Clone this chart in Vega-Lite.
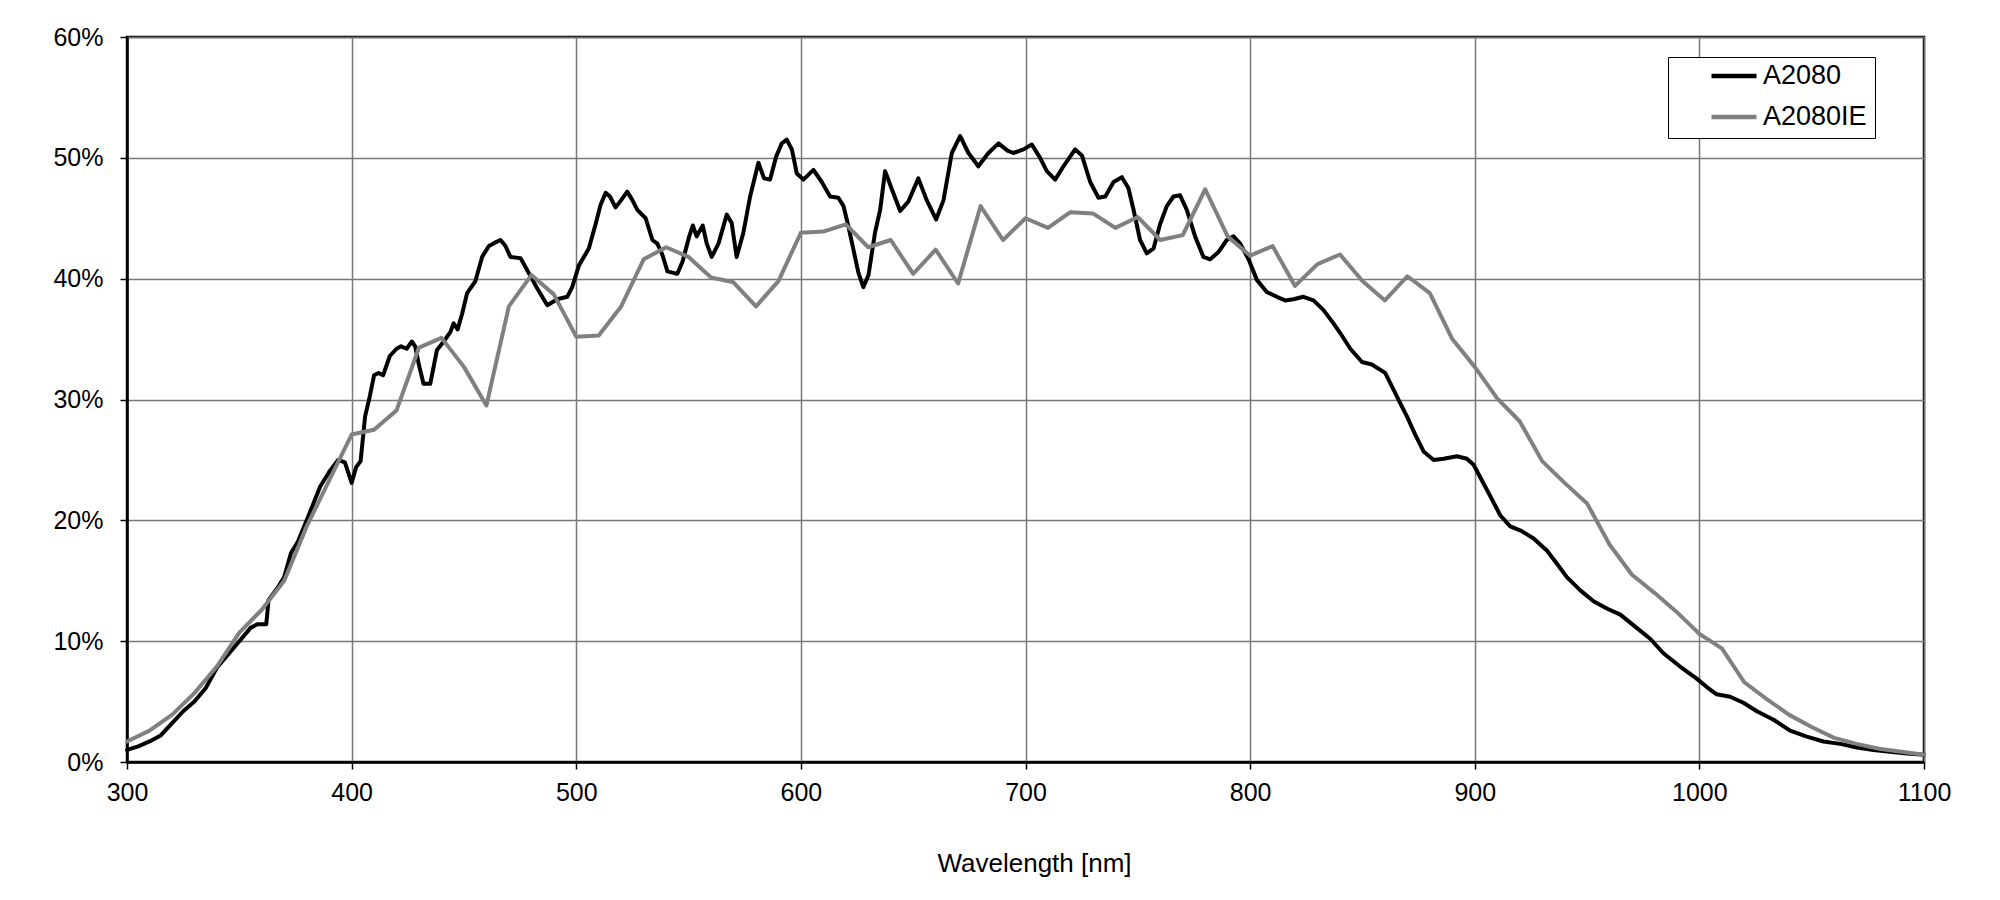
{
  "$schema": "https://vega.github.io/schema/vega-lite/v6.json",
  "width": 1797,
  "height": 725,
  "autosize": {"type": "none"},
  "padding": {"left": 127, "top": 37, "right": 76, "bottom": 138},
  "background": "white",
  "config": {
    "font": "Liberation Sans",
    "view": {"stroke": "#000000", "strokeWidth": 2.5},
    "axis": {
      "grid": true,
      "gridColor": "#777777",
      "gridWidth": 1.5,
      "domainColor": "#000000",
      "domainWidth": 2.5,
      "tickColor": "#000000",
      "tickSize": 7,
      "tickWidth": 1.5,
      "labelColor": "#000000",
      "labelFontSize": 25,
      "labelFont": "Liberation Sans",
      "titleFont": "Liberation Sans",
      "titleColor": "#000000",
      "titleFontSize": 26,
      "titleFontWeight": "normal",
      "labelFlush": false,
      "labelOverlap": false
    }
  },
  "data": {
    "values": [
      {"series": "A2080", "wl": 300, "qe": 1.0},
      {"series": "A2080", "wl": 305, "qe": 1.3},
      {"series": "A2080", "wl": 310, "qe": 1.7},
      {"series": "A2080", "wl": 315, "qe": 2.2},
      {"series": "A2080", "wl": 320, "qe": 3.2},
      {"series": "A2080", "wl": 325, "qe": 4.2},
      {"series": "A2080", "wl": 330, "qe": 5.0},
      {"series": "A2080", "wl": 335, "qe": 6.1},
      {"series": "A2080", "wl": 340, "qe": 7.8},
      {"series": "A2080", "wl": 345, "qe": 8.9},
      {"series": "A2080", "wl": 350, "qe": 10.0},
      {"series": "A2080", "wl": 355, "qe": 11.1},
      {"series": "A2080", "wl": 358, "qe": 11.4},
      {"series": "A2080", "wl": 362, "qe": 11.4},
      {"series": "A2080", "wl": 363, "qe": 13.4},
      {"series": "A2080", "wl": 367, "qe": 14.4},
      {"series": "A2080", "wl": 370, "qe": 15.3},
      {"series": "A2080", "wl": 373, "qe": 17.3},
      {"series": "A2080", "wl": 376, "qe": 18.2},
      {"series": "A2080", "wl": 380, "qe": 20.0},
      {"series": "A2080", "wl": 383, "qe": 21.4},
      {"series": "A2080", "wl": 386, "qe": 22.8},
      {"series": "A2080", "wl": 390, "qe": 24.0},
      {"series": "A2080", "wl": 394, "qe": 25.0},
      {"series": "A2080", "wl": 397, "qe": 24.8},
      {"series": "A2080", "wl": 400, "qe": 23.1},
      {"series": "A2080", "wl": 402, "qe": 24.4},
      {"series": "A2080", "wl": 404, "qe": 24.9},
      {"series": "A2080", "wl": 406, "qe": 28.6},
      {"series": "A2080", "wl": 408, "qe": 30.2},
      {"series": "A2080", "wl": 410, "qe": 32.0},
      {"series": "A2080", "wl": 412, "qe": 32.2},
      {"series": "A2080", "wl": 414, "qe": 32.0},
      {"series": "A2080", "wl": 417, "qe": 33.6},
      {"series": "A2080", "wl": 420, "qe": 34.2},
      {"series": "A2080", "wl": 422, "qe": 34.4},
      {"series": "A2080", "wl": 424.5, "qe": 34.2},
      {"series": "A2080", "wl": 426.8, "qe": 34.8},
      {"series": "A2080", "wl": 428.3, "qe": 34.4},
      {"series": "A2080", "wl": 429.8, "qe": 33.0},
      {"series": "A2080", "wl": 432, "qe": 31.3},
      {"series": "A2080", "wl": 435, "qe": 31.3},
      {"series": "A2080", "wl": 438, "qe": 34.1},
      {"series": "A2080", "wl": 441, "qe": 34.8},
      {"series": "A2080", "wl": 444, "qe": 35.6},
      {"series": "A2080", "wl": 445.4, "qe": 36.3},
      {"series": "A2080", "wl": 447.2, "qe": 35.8},
      {"series": "A2080", "wl": 449.2, "qe": 37.1},
      {"series": "A2080", "wl": 451.4, "qe": 38.8},
      {"series": "A2080", "wl": 455.1, "qe": 39.8},
      {"series": "A2080", "wl": 458.1, "qe": 41.8},
      {"series": "A2080", "wl": 461.1, "qe": 42.7},
      {"series": "A2080", "wl": 464, "qe": 43.0},
      {"series": "A2080", "wl": 466.3, "qe": 43.2},
      {"series": "A2080", "wl": 468.5, "qe": 42.7},
      {"series": "A2080", "wl": 470.7, "qe": 41.8},
      {"series": "A2080", "wl": 475.2, "qe": 41.7},
      {"series": "A2080", "wl": 478.2, "qe": 40.7},
      {"series": "A2080", "wl": 482.6, "qe": 39.2},
      {"series": "A2080", "wl": 487.1, "qe": 37.8},
      {"series": "A2080", "wl": 491.5, "qe": 38.3},
      {"series": "A2080", "wl": 496, "qe": 38.5},
      {"series": "A2080", "wl": 498.2, "qe": 39.3},
      {"series": "A2080", "wl": 501.2, "qe": 41.1},
      {"series": "A2080", "wl": 505.6, "qe": 42.5},
      {"series": "A2080", "wl": 508.6, "qe": 44.5},
      {"series": "A2080", "wl": 510.8, "qe": 46.1},
      {"series": "A2080", "wl": 513.1, "qe": 47.1},
      {"series": "A2080", "wl": 515, "qe": 46.8},
      {"series": "A2080", "wl": 517.5, "qe": 45.9},
      {"series": "A2080", "wl": 520, "qe": 46.5},
      {"series": "A2080", "wl": 522.7, "qe": 47.2},
      {"series": "A2080", "wl": 525, "qe": 46.5},
      {"series": "A2080", "wl": 527.2, "qe": 45.7},
      {"series": "A2080", "wl": 530.9, "qe": 45.0},
      {"series": "A2080", "wl": 533.9, "qe": 43.2},
      {"series": "A2080", "wl": 536.1, "qe": 42.9},
      {"series": "A2080", "wl": 538.3, "qe": 42.0},
      {"series": "A2080", "wl": 540.6, "qe": 40.6},
      {"series": "A2080", "wl": 545, "qe": 40.4},
      {"series": "A2080", "wl": 547.3, "qe": 41.4},
      {"series": "A2080", "wl": 550.3, "qe": 43.5},
      {"series": "A2080", "wl": 551.9, "qe": 44.4},
      {"series": "A2080", "wl": 553.6, "qe": 43.5},
      {"series": "A2080", "wl": 556.3, "qe": 44.4},
      {"series": "A2080", "wl": 558.1, "qe": 42.9},
      {"series": "A2080", "wl": 560.3, "qe": 41.8},
      {"series": "A2080", "wl": 563.3, "qe": 42.9},
      {"series": "A2080", "wl": 567, "qe": 45.3},
      {"series": "A2080", "wl": 569.2, "qe": 44.6},
      {"series": "A2080", "wl": 571.4, "qe": 41.8},
      {"series": "A2080", "wl": 574.4, "qe": 43.8},
      {"series": "A2080", "wl": 577.4, "qe": 46.8},
      {"series": "A2080", "wl": 581.1, "qe": 49.6},
      {"series": "A2080", "wl": 583.6, "qe": 48.3},
      {"series": "A2080", "wl": 586.3, "qe": 48.2},
      {"series": "A2080", "wl": 589, "qe": 50.1},
      {"series": "A2080", "wl": 591.5, "qe": 51.2},
      {"series": "A2080", "wl": 593.7, "qe": 51.5},
      {"series": "A2080", "wl": 596, "qe": 50.7},
      {"series": "A2080", "wl": 598.2, "qe": 48.7},
      {"series": "A2080", "wl": 601.1, "qe": 48.2},
      {"series": "A2080", "wl": 605.6, "qe": 49.0},
      {"series": "A2080", "wl": 609.3, "qe": 48.0},
      {"series": "A2080", "wl": 613, "qe": 46.8},
      {"series": "A2080", "wl": 616.7, "qe": 46.7},
      {"series": "A2080", "wl": 619, "qe": 46.0},
      {"series": "A2080", "wl": 621.2, "qe": 44.3},
      {"series": "A2080", "wl": 623.4, "qe": 42.4},
      {"series": "A2080", "wl": 625.6, "qe": 40.5},
      {"series": "A2080", "wl": 627.8, "qe": 39.3},
      {"series": "A2080", "wl": 630.1, "qe": 40.3},
      {"series": "A2080", "wl": 633, "qe": 43.8},
      {"series": "A2080", "wl": 635.3, "qe": 45.7},
      {"series": "A2080", "wl": 637.5, "qe": 48.9},
      {"series": "A2080", "wl": 640.5, "qe": 47.4},
      {"series": "A2080", "wl": 644.2, "qe": 45.6},
      {"series": "A2080", "wl": 647.9, "qe": 46.4},
      {"series": "A2080", "wl": 652.3, "qe": 48.3},
      {"series": "A2080", "wl": 656, "qe": 46.5},
      {"series": "A2080", "wl": 660.2, "qe": 44.9},
      {"series": "A2080", "wl": 663.5, "qe": 46.5},
      {"series": "A2080", "wl": 667.2, "qe": 50.4},
      {"series": "A2080", "wl": 670.9, "qe": 51.8},
      {"series": "A2080", "wl": 674.6, "qe": 50.4},
      {"series": "A2080", "wl": 679, "qe": 49.3},
      {"series": "A2080", "wl": 683.5, "qe": 50.4},
      {"series": "A2080", "wl": 688, "qe": 51.2},
      {"series": "A2080", "wl": 692, "qe": 50.6},
      {"series": "A2080", "wl": 694.6, "qe": 50.4},
      {"series": "A2080", "wl": 699.1, "qe": 50.7},
      {"series": "A2080", "wl": 702.8, "qe": 51.1},
      {"series": "A2080", "wl": 706.5, "qe": 50.0},
      {"series": "A2080", "wl": 709.5, "qe": 48.9},
      {"series": "A2080", "wl": 713.2, "qe": 48.2},
      {"series": "A2080", "wl": 716.9, "qe": 49.3},
      {"series": "A2080", "wl": 722.1, "qe": 50.7},
      {"series": "A2080", "wl": 725.1, "qe": 50.2},
      {"series": "A2080", "wl": 728.8, "qe": 48.0},
      {"series": "A2080", "wl": 732.5, "qe": 46.7},
      {"series": "A2080", "wl": 735.5, "qe": 46.8},
      {"series": "A2080", "wl": 739.2, "qe": 48.0},
      {"series": "A2080", "wl": 742.9, "qe": 48.4},
      {"series": "A2080", "wl": 745.8, "qe": 47.5},
      {"series": "A2080", "wl": 748.1, "qe": 45.7},
      {"series": "A2080", "wl": 751, "qe": 43.2},
      {"series": "A2080", "wl": 754, "qe": 42.1},
      {"series": "A2080", "wl": 757, "qe": 42.5},
      {"series": "A2080", "wl": 759.9, "qe": 44.5},
      {"series": "A2080", "wl": 762.9, "qe": 46.0},
      {"series": "A2080", "wl": 765.9, "qe": 46.8},
      {"series": "A2080", "wl": 768.8, "qe": 46.9},
      {"series": "A2080", "wl": 771.8, "qe": 45.7},
      {"series": "A2080", "wl": 775.5, "qe": 43.5},
      {"series": "A2080", "wl": 779.2, "qe": 41.8},
      {"series": "A2080", "wl": 782.2, "qe": 41.6},
      {"series": "A2080", "wl": 785.9, "qe": 42.2},
      {"series": "A2080", "wl": 789.6, "qe": 43.2},
      {"series": "A2080", "wl": 792.6, "qe": 43.5},
      {"series": "A2080", "wl": 795.6, "qe": 42.9},
      {"series": "A2080", "wl": 799.3, "qe": 41.6},
      {"series": "A2080", "wl": 803, "qe": 39.9},
      {"series": "A2080", "wl": 807.4, "qe": 38.9},
      {"series": "A2080", "wl": 811.9, "qe": 38.5},
      {"series": "A2080", "wl": 815.6, "qe": 38.2},
      {"series": "A2080", "wl": 819.3, "qe": 38.3},
      {"series": "A2080", "wl": 823.7, "qe": 38.5},
      {"series": "A2080", "wl": 828.2, "qe": 38.2},
      {"series": "A2080", "wl": 832.7, "qe": 37.4},
      {"series": "A2080", "wl": 837.1, "qe": 36.3},
      {"series": "A2080", "wl": 840.1, "qe": 35.5},
      {"series": "A2080", "wl": 844.6, "qe": 34.2},
      {"series": "A2080", "wl": 849.8, "qe": 33.1},
      {"series": "A2080", "wl": 854.2, "qe": 32.9},
      {"series": "A2080", "wl": 860.1, "qe": 32.2},
      {"series": "A2080", "wl": 863.9, "qe": 30.8},
      {"series": "A2080", "wl": 866.8, "qe": 29.7},
      {"series": "A2080", "wl": 869.8, "qe": 28.6},
      {"series": "A2080", "wl": 873.5, "qe": 27.1},
      {"series": "A2080", "wl": 877.2, "qe": 25.7},
      {"series": "A2080", "wl": 881.7, "qe": 25.0},
      {"series": "A2080", "wl": 886.1, "qe": 25.1},
      {"series": "A2080", "wl": 892.1, "qe": 25.3},
      {"series": "A2080", "wl": 896.5, "qe": 25.1},
      {"series": "A2080", "wl": 899.5, "qe": 24.6},
      {"series": "A2080", "wl": 903.2, "qe": 23.3},
      {"series": "A2080", "wl": 906.9, "qe": 22.0},
      {"series": "A2080", "wl": 911.4, "qe": 20.4},
      {"series": "A2080", "wl": 915.8, "qe": 19.5},
      {"series": "A2080", "wl": 921, "qe": 19.1},
      {"series": "A2080", "wl": 926.2, "qe": 18.5},
      {"series": "A2080", "wl": 932.1, "qe": 17.5},
      {"series": "A2080", "wl": 936.6, "qe": 16.4},
      {"series": "A2080", "wl": 941, "qe": 15.3},
      {"series": "A2080", "wl": 947, "qe": 14.2},
      {"series": "A2080", "wl": 952.9, "qe": 13.3},
      {"series": "A2080", "wl": 958.8, "qe": 12.7},
      {"series": "A2080", "wl": 964.8, "qe": 12.2},
      {"series": "A2080", "wl": 972.1, "qe": 11.1},
      {"series": "A2080", "wl": 978.1, "qe": 10.2},
      {"series": "A2080", "wl": 984, "qe": 9.0},
      {"series": "A2080", "wl": 991.4, "qe": 7.9},
      {"series": "A2080", "wl": 998.8, "qe": 6.9},
      {"series": "A2080", "wl": 1003.3, "qe": 6.2},
      {"series": "A2080", "wl": 1007.7, "qe": 5.6},
      {"series": "A2080", "wl": 1013.7, "qe": 5.4},
      {"series": "A2080", "wl": 1019.6, "qe": 4.9},
      {"series": "A2080", "wl": 1025.6, "qe": 4.2},
      {"series": "A2080", "wl": 1033, "qe": 3.5},
      {"series": "A2080", "wl": 1040.4, "qe": 2.6},
      {"series": "A2080", "wl": 1047.8, "qe": 2.1},
      {"series": "A2080", "wl": 1055.2, "qe": 1.7},
      {"series": "A2080", "wl": 1062.7, "qe": 1.5},
      {"series": "A2080", "wl": 1070.1, "qe": 1.2},
      {"series": "A2080", "wl": 1077.5, "qe": 1.0},
      {"series": "A2080", "wl": 1084.9, "qe": 0.85},
      {"series": "A2080", "wl": 1092.3, "qe": 0.7},
      {"series": "A2080", "wl": 1100, "qe": 0.6},
      {"series": "A2080IE", "wl": 300, "qe": 1.7},
      {"series": "A2080IE", "wl": 310, "qe": 2.6},
      {"series": "A2080IE", "wl": 320, "qe": 3.9},
      {"series": "A2080IE", "wl": 330, "qe": 5.7},
      {"series": "A2080IE", "wl": 340, "qe": 7.9},
      {"series": "A2080IE", "wl": 350, "qe": 10.7},
      {"series": "A2080IE", "wl": 360, "qe": 12.6},
      {"series": "A2080IE", "wl": 370, "qe": 15.0},
      {"series": "A2080IE", "wl": 380, "qe": 19.5},
      {"series": "A2080IE", "wl": 390, "qe": 23.3},
      {"series": "A2080IE", "wl": 400, "qe": 27.1},
      {"series": "A2080IE", "wl": 410, "qe": 27.5},
      {"series": "A2080IE", "wl": 420, "qe": 29.1},
      {"series": "A2080IE", "wl": 430, "qe": 34.3},
      {"series": "A2080IE", "wl": 440, "qe": 35.1},
      {"series": "A2080IE", "wl": 450, "qe": 32.7},
      {"series": "A2080IE", "wl": 460, "qe": 29.5},
      {"series": "A2080IE", "wl": 470, "qe": 37.7},
      {"series": "A2080IE", "wl": 480, "qe": 40.3},
      {"series": "A2080IE", "wl": 490, "qe": 38.7},
      {"series": "A2080IE", "wl": 500, "qe": 35.2},
      {"series": "A2080IE", "wl": 510, "qe": 35.3},
      {"series": "A2080IE", "wl": 520, "qe": 37.7},
      {"series": "A2080IE", "wl": 530, "qe": 41.6},
      {"series": "A2080IE", "wl": 540, "qe": 42.6},
      {"series": "A2080IE", "wl": 550, "qe": 41.8},
      {"series": "A2080IE", "wl": 560, "qe": 40.1},
      {"series": "A2080IE", "wl": 570, "qe": 39.7},
      {"series": "A2080IE", "wl": 580, "qe": 37.7},
      {"series": "A2080IE", "wl": 590, "qe": 39.8},
      {"series": "A2080IE", "wl": 600, "qe": 43.8},
      {"series": "A2080IE", "wl": 610, "qe": 43.9},
      {"series": "A2080IE", "wl": 620, "qe": 44.5},
      {"series": "A2080IE", "wl": 630, "qe": 42.6},
      {"series": "A2080IE", "wl": 640, "qe": 43.2},
      {"series": "A2080IE", "wl": 650, "qe": 40.4},
      {"series": "A2080IE", "wl": 660, "qe": 42.4},
      {"series": "A2080IE", "wl": 670, "qe": 39.6},
      {"series": "A2080IE", "wl": 680, "qe": 46.0},
      {"series": "A2080IE", "wl": 690, "qe": 43.2},
      {"series": "A2080IE", "wl": 700, "qe": 45.0},
      {"series": "A2080IE", "wl": 710, "qe": 44.2},
      {"series": "A2080IE", "wl": 720, "qe": 45.5},
      {"series": "A2080IE", "wl": 730, "qe": 45.4},
      {"series": "A2080IE", "wl": 740, "qe": 44.2},
      {"series": "A2080IE", "wl": 750, "qe": 45.1},
      {"series": "A2080IE", "wl": 760, "qe": 43.2},
      {"series": "A2080IE", "wl": 770, "qe": 43.6},
      {"series": "A2080IE", "wl": 780, "qe": 47.4},
      {"series": "A2080IE", "wl": 790, "qe": 43.5},
      {"series": "A2080IE", "wl": 800, "qe": 41.9},
      {"series": "A2080IE", "wl": 810, "qe": 42.7},
      {"series": "A2080IE", "wl": 820, "qe": 39.4},
      {"series": "A2080IE", "wl": 830, "qe": 41.2},
      {"series": "A2080IE", "wl": 840, "qe": 42.0},
      {"series": "A2080IE", "wl": 850, "qe": 39.8},
      {"series": "A2080IE", "wl": 860, "qe": 38.2},
      {"series": "A2080IE", "wl": 870, "qe": 40.2},
      {"series": "A2080IE", "wl": 880, "qe": 38.8},
      {"series": "A2080IE", "wl": 890, "qe": 35.0},
      {"series": "A2080IE", "wl": 900, "qe": 32.7},
      {"series": "A2080IE", "wl": 910, "qe": 30.1},
      {"series": "A2080IE", "wl": 920, "qe": 28.2},
      {"series": "A2080IE", "wl": 930, "qe": 24.9},
      {"series": "A2080IE", "wl": 940, "qe": 23.1},
      {"series": "A2080IE", "wl": 950, "qe": 21.4},
      {"series": "A2080IE", "wl": 960, "qe": 18.0},
      {"series": "A2080IE", "wl": 970, "qe": 15.5},
      {"series": "A2080IE", "wl": 980, "qe": 14.0},
      {"series": "A2080IE", "wl": 990, "qe": 12.4},
      {"series": "A2080IE", "wl": 1000, "qe": 10.6},
      {"series": "A2080IE", "wl": 1010, "qe": 9.4},
      {"series": "A2080IE", "wl": 1020, "qe": 6.6},
      {"series": "A2080IE", "wl": 1030, "qe": 5.2},
      {"series": "A2080IE", "wl": 1040, "qe": 3.9},
      {"series": "A2080IE", "wl": 1050, "qe": 2.9},
      {"series": "A2080IE", "wl": 1060, "qe": 2.0},
      {"series": "A2080IE", "wl": 1070, "qe": 1.5},
      {"series": "A2080IE", "wl": 1080, "qe": 1.1},
      {"series": "A2080IE", "wl": 1090, "qe": 0.85},
      {"series": "A2080IE", "wl": 1100, "qe": 0.6}
    ]
  },
  "mark": {"type": "line", "strokeWidth": 4, "strokeJoin": "round", "strokeCap": "round"},
  "encoding": {
    "x": {
      "field": "wl",
      "type": "quantitative",
      "scale": {"domain": [300, 1100], "nice": false, "zero": false},
      "axis": {
        "values": [300, 400, 500, 600, 700, 800, 900, 1000, 1100],
        "format": "d",
        "title": "Wavelength [nm]",
        "titleX": 907,
        "labelPadding": 11,
        "titlePadding": 45
      }
    },
    "y": {
      "field": "qe",
      "type": "quantitative",
      "scale": {"domain": [0, 60], "nice": false},
      "axis": {
        "values": [0, 10, 20, 30, 40, 50, 60],
        "labelExpr": "datum.value + '%'",
        "title": null,
        "labelPadding": 17
      }
    },
    "color": {
      "field": "series",
      "type": "nominal",
      "scale": {"domain": ["A2080", "A2080IE"], "range": ["#000000", "#808080"]},
      "legend": {
        "orient": "none",
        "legendX": 1541,
        "legendY": 20,
        "title": null,
        "symbolType": "stroke",
        "symbolSize": 2025,
        "symbolStrokeWidth": 4.5,
        "symbolOffset": 33,
        "labelOffset": 4,
        "labelFontSize": 27,
        "labelFont": "Liberation Sans",
        "labelColor": "#000000",
        "strokeColor": "#000000",
        "fillColor": "#ffffff",
        "padding": 8,
        "clipHeight": 22,
        "rowPadding": 14
      }
    }
  }
}
